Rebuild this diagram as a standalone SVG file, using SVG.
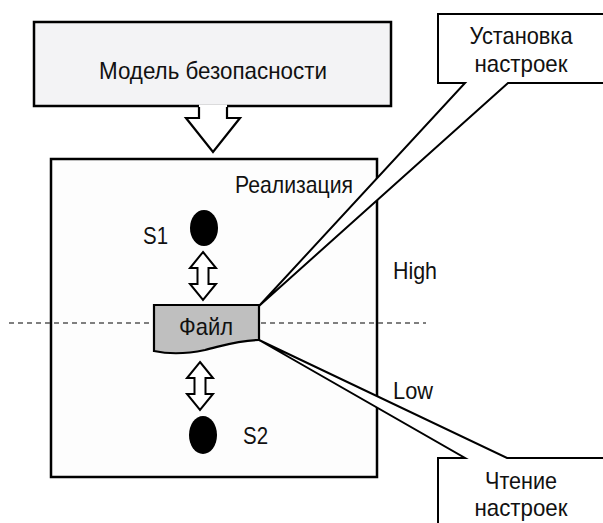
<svg xmlns="http://www.w3.org/2000/svg" width="603" height="523" viewBox="0 0 603 523">
<style>
text{font-family:"Liberation Sans",Arial,sans-serif;font-size:24px;fill:#111}
.ln{fill:none;stroke:#000;stroke-width:2.2;stroke-linejoin:miter}
.wf{fill:#fff;stroke:#000;stroke-width:2}
</style>
<rect width="603" height="523" fill="#fff"/>
<g id="model">
<rect x="34" y="22" width="357" height="84" fill="#f3f3f5" stroke="#000" stroke-width="2.5"/>
<text x="213" y="79" text-anchor="middle" textLength="228" lengthAdjust="spacingAndGlyphs">Модель безопасности</text>
</g>
<g id="impl">
<rect x="51" y="159" width="326" height="318" fill="#fdfdfd" stroke="#000" stroke-width="2.5"/>
<text x="235" y="193" textLength="118" lengthAdjust="spacingAndGlyphs">Реализация</text>
</g>
<g id="connectors">
<line x1="9" y1="323" x2="426" y2="323" stroke="#555" stroke-width="1.5" stroke-dasharray="5,4"/>
<g id="down-arrow">
<polygon points="199,104.5 227,104.5 227,118 240,118 213,152 186,118 199,118" fill="#fff"/>
<path class="ln" d="M199,107 V118 H186 L213,152 L240,118 H227 V107"/>
</g>
<polygon class="wf" points="203,252 216,268 208.5,268 208.5,284 216,284 203,300 190,284 197.5,284 197.5,268 190,268"/>
<polygon class="wf" points="200,362 213,378 205.5,378 205.5,394 213,394 200,410 187,394 194.5,394 194.5,378 187,378"/>
</g>
<g id="file">
<path d="M154,305 H259 V340 C238,340 222,346 205,350 C186,354 168,354 154,351 Z" fill="#bfbfbf" stroke="#000" stroke-width="2.2"/>
<text x="206" y="335" text-anchor="middle" textLength="54" lengthAdjust="spacingAndGlyphs">Файл</text>
</g>
<g id="s1">
<ellipse cx="204" cy="228" rx="14" ry="18" fill="#000"/>
<text x="143" y="244" textLength="25" lengthAdjust="spacingAndGlyphs">S1</text>
</g>
<g id="s2">
<ellipse cx="203" cy="435" rx="14" ry="19" fill="#000"/>
<text x="243" y="444" textLength="25" lengthAdjust="spacingAndGlyphs">S2</text>
</g>
<g id="levels">
<text x="393" y="279" textLength="44" lengthAdjust="spacingAndGlyphs">High</text>
<text x="393" y="399" textLength="40" lengthAdjust="spacingAndGlyphs">Low</text>
</g>
<g id="callout-write">
<path class="wf" d="M438,14 H612 V83 H508 L259,306 L465,83 H438 Z"/>
<text x="521" y="44" text-anchor="middle" textLength="103" lengthAdjust="spacingAndGlyphs">Установка</text>
<text x="521" y="72" text-anchor="middle" textLength="93" lengthAdjust="spacingAndGlyphs">настроек</text>
</g>
<g id="callout-read">
<path class="wf" d="M438,458 H465 L259,340 L507,458 H612 V530 H438 Z"/>
<text x="521" y="489" text-anchor="middle" textLength="72" lengthAdjust="spacingAndGlyphs">Чтение</text>
<text x="521" y="516" text-anchor="middle" textLength="93" lengthAdjust="spacingAndGlyphs">настроек</text>
</g>
</svg>
